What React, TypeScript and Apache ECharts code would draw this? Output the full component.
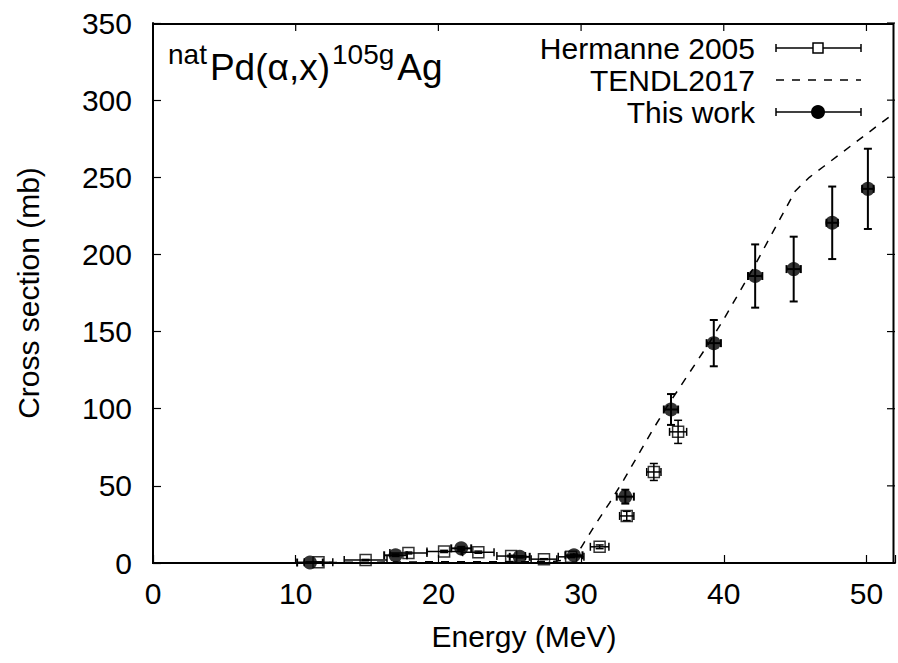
import React, { useEffect, useRef } from "react";
import * as echarts from "echarts";

// ---- Data ----
const xTickValues = [0, 10, 20, 30, 40, 50];
const yTickValues = [0, 50, 100, 150, 200, 250, 300, 350];
const xMax = 52;
const yMax = 350;

const thisWorkEnergy = [11.0, 17.0, 21.6, 25.7, 29.5, 33.1, 36.3, 39.3, 42.2, 44.9, 47.6, 50.1];
const thisWorkEnergyErr = [0.9, 0.8, 0.7, 0.7, 0.6, 0.6, 0.5, 0.5, 0.5, 0.5, 0.4, 0.4];
const thisWorkCS = [0.3, 5.0, 9.5, 4.0, 5.0, 43.0, 99.5, 142.5, 186.0, 190.5, 220.5, 242.5];
const thisWorkCSErr = [0.1, 0.6, 1.0, 0.5, 0.6, 4.5, 10.0, 15.0, 20.5, 21.0, 23.5, 26.0];

const hermanneEnergy = [11.6, 14.9, 17.9, 20.4, 22.8, 25.1, 27.4, 29.3, 31.3, 33.2, 35.1, 36.8];
const hermanneEnergyErr = [1.0, 1.5, 1.3, 1.2, 1.1, 1.0, 0.9, 0.9, 0.65, 0.5, 0.5, 0.6];
const hermanneCS = [0.5, 2.0, 6.5, 7.5, 7.0, 4.5, 2.5, 4.0, 10.5, 30.5, 59.0, 85.0];
const hermanneCSErr = [0.1, 0.3, 0.6, 0.7, 0.7, 0.5, 0.3, 0.5, 1.2, 3.0, 5.5, 7.5];

const tendlEnergy = [0, 5, 10, 15, 20, 25, 28, 29, 30, 31, 32, 33, 34, 35, 36, 37, 38, 39, 40, 41, 42, 43, 44, 45, 46, 47, 48, 49, 50, 51, 52];
const tendlCS = [0, 0, 0.2, 0.5, 0.8, 0.8, 1, 2, 10, 25, 39, 54, 70, 86, 101, 115, 129, 143, 158, 174, 190, 207, 224, 241, 250, 257, 264, 271, 278, 285, 292];

const FONT = "'Liberation Sans', Arial, Helvetica, sans-serif";

function errorBars(cap: number, lw: number) {
  return (params: any, api: any) => {
    const x = api.value(0);
    const y = api.value(1);
    const xe = api.value(2);
    const ye = api.value(3);
    const l = api.coord([x - xe, y]);
    const r = api.coord([x + xe, y]);
    const b = api.coord([x, y - ye]);
    const t = api.coord([x, y + ye]);
    const style = { stroke: "#000", lineWidth: lw, fill: "none" };
    return {
      type: "group",
      children: [
        { type: "line", shape: { x1: l[0], y1: l[1], x2: r[0], y2: r[1] }, style },
        { type: "line", shape: { x1: l[0], y1: l[1] - cap, x2: l[0], y2: l[1] + cap }, style },
        { type: "line", shape: { x1: r[0], y1: r[1] - cap, x2: r[0], y2: r[1] + cap }, style },
        { type: "line", shape: { x1: t[0], y1: t[1], x2: b[0], y2: b[1] }, style },
        { type: "line", shape: { x1: t[0] - cap, y1: t[1], x2: t[0] + cap, y2: t[1] }, style },
        { type: "line", shape: { x1: b[0] - cap, y1: b[1], x2: b[0] + cap, y2: b[1] }, style },
      ],
    };
  };
}

// Whole frame with inward ticks on top and right, placed through the axes' scales
function frameRenderer(params: any, api: any) {
  const tl = api.coord([0, yMax]);
  const br = api.coord([xMax, 0]);
  const tickStyle = { stroke: "#000", lineWidth: 1.2, fill: "none" };
  const children: any[] = [
    {
      type: "rect",
      shape: { x: tl[0], y: tl[1] + 1, width: br[0] - tl[0] - 1.5, height: br[1] - tl[1] - 1 },
      style: { stroke: "#000", lineWidth: 2, fill: "rgba(0,0,0,0)" },
    },
  ];
  xTickValues.forEach((v) => {
    const p = api.coord([v, yMax]);
    children.push({ type: "line", shape: { x1: p[0], y1: p[1], x2: p[0], y2: p[1] + 8 }, style: tickStyle });
  });
  yTickValues.forEach((v) => {
    const p = api.coord([xMax, v]);
    children.push({ type: "line", shape: { x1: p[0], y1: p[1], x2: p[0] - 8, y2: p[1] }, style: tickStyle });
  });
  return { type: "group", children };
}

export default function App() {
  const ref = useRef<HTMLDivElement>(null);

  useEffect(() => {
    if (!ref.current) return;
    const chart = echarts.init(ref.current, null, { renderer: "svg" });

    const hermData = hermanneEnergy.map((e, i) => [e, hermanneCS[i], hermanneEnergyErr[i], hermanneCSErr[i]]);
    const twData = thisWorkEnergy.map((e, i) => [e, thisWorkCS[i], thisWorkEnergyErr[i], thisWorkCSErr[i]]);
    const tendlData = tendlEnergy.map((e, i) => [e, tendlCS[i]]);

    const axisLine = { show: true, onZero: false, lineStyle: { color: "#000", width: 2 } };
    const axisTick = { show: true, inside: true, length: 8, lineStyle: { color: "#000", width: 1.2 } };

    const xFmt = (v: number) => (xTickValues.includes(v) ? String(v) : "");
    const yFmt = (v: number) => (yTickValues.includes(v) ? String(v) : "");

    const legendX1 = 776;
    const legendX2 = 861;
    const legendMid = 818;
    const rows = [48, 80, 112];
    const cap = 4;
    const lStyle = { stroke: "#000", lineWidth: 1.5 };

    const barGroup = (y: number) => [
      { type: "line", shape: { x1: legendX1, y1: y, x2: legendX2, y2: y }, style: lStyle },
      { type: "line", shape: { x1: legendX1, y1: y - cap, x2: legendX1, y2: y + cap }, style: lStyle },
      { type: "line", shape: { x1: legendX2, y1: y - cap, x2: legendX2, y2: y + cap }, style: lStyle },
    ];

    const legendText = (t: string, y: number) => ({
      type: "text",
      x: 755,
      y,
      style: {
        text: t,
        fill: "#000",
        fontSize: 30,
        fontFamily: FONT,
        align: "right",
        verticalAlign: "middle",
        textAlign: "right",
        textVerticalAlign: "middle",
      },
    });

    chart.setOption({
      animation: false,
      backgroundColor: "#fff",
      grid: { left: 153, right: 2, top: 23, bottom: 100, containLabel: false },
      xAxis: {
        type: "value",
        min: 0,
        max: xMax,
        interval: 10,
        name: "Energy (MeV)",
        nameLocation: "middle",
        nameGap: 58,
        nameTextStyle: { color: "#000", fontSize: 30, fontFamily: FONT },
        axisLine,
        axisTick,
        splitLine: { show: false },
        axisLabel: { color: "#000", fontSize: 30, fontFamily: FONT, margin: 15, formatter: xFmt },
      },
      yAxis: {
        type: "value",
        min: 0,
        max: yMax,
        interval: 50,
        name: "Cross section (mb)",
        nameLocation: "middle",
        nameGap: 110,
        nameRotate: 90,
        nameTextStyle: { color: "#000", fontSize: 30, fontFamily: FONT },
        axisLine,
        axisTick,
        splitLine: { show: false },
        axisLabel: { color: "#000", fontSize: 30, fontFamily: FONT, margin: 21, formatter: yFmt },
      },
      series: [
        {
          name: "frame",
          type: "custom",
          data: [[26, 175]],
          encode: { x: 0, y: 1 },
          renderItem: frameRenderer,
          clip: false,
          silent: true,
          z: 10,
        },
        {
          name: "TENDL2017",
          type: "line",
          data: tendlData,
          showSymbol: false,
          symbol: "none",
          lineStyle: { color: "#000", width: 1.5, type: [8, 8] },
          z: 1,
        },
        {
          name: "Hermanne 2005 errors",
          type: "custom",
          data: hermData,
          encode: { x: 0, y: 1 },
          renderItem: errorBars(4, 1.5),
          z: 2,
        },
        {
          name: "Hermanne 2005",
          type: "scatter",
          data: hermData.map((d) => [d[0], d[1]]),
          symbol: "rect",
          symbolSize: 11,
          itemStyle: { color: "rgba(255,255,255,0)", borderColor: "#000", borderWidth: 1.5 },
          z: 3,
        },
        {
          name: "This work errors",
          type: "custom",
          data: twData,
          encode: { x: 0, y: 1 },
          renderItem: errorBars(4, 2),
          z: 4,
        },
        {
          name: "This work",
          type: "scatter",
          data: twData.map((d) => [d[0], d[1]]),
          symbol: "circle",
          symbolSize: 14,
          itemStyle: { color: "#000" },
          z: 5,
        },
      ],
      graphic: [
        {
          type: "text",
          x: 166,
          y: 40,
          style: {
            text: "{s|nat}{m|Pd(α,x)}{s|105g}{m|Ag}",
            fill: "#000",
            fontFamily: FONT,
            rich: {
              s: { fontSize: 28, fontFamily: FONT, fill: "#000", verticalAlign: "top", lineHeight: 22, padding: [0, 3, 0, 2] },
              m: { fontSize: 37, fontFamily: FONT, fill: "#000", verticalAlign: "bottom", lineHeight: 46 },
            },
          },
        },
        legendText("Hermanne 2005", rows[0]),
        legendText("TENDL2017", rows[1]),
        legendText("This work", rows[2]),
        ...barGroup(rows[0]),
        {
          type: "rect",
          shape: { x: legendMid - 5, y: rows[0] - 5, width: 10, height: 10 },
          style: { fill: "#fff", stroke: "#000", lineWidth: 1.5 },
        },
        {
          type: "line",
          shape: { x1: legendX1, y1: rows[1], x2: legendX2, y2: rows[1] },
          style: { stroke: "#000", lineWidth: 1.5, lineDash: [8, 8] },
        },
        ...barGroup(rows[2]),
        {
          type: "circle",
          shape: { cx: legendMid, cy: rows[2], r: 7 },
          style: { fill: "#000" },
        },
      ],
    });

    return () => chart.dispose();
  }, []);

  return (
    <div
      ref={ref}
      style={{ position: "fixed", left: 0, top: 0, width: 898, height: 663, background: "#fff" }}
    />
  );
}
